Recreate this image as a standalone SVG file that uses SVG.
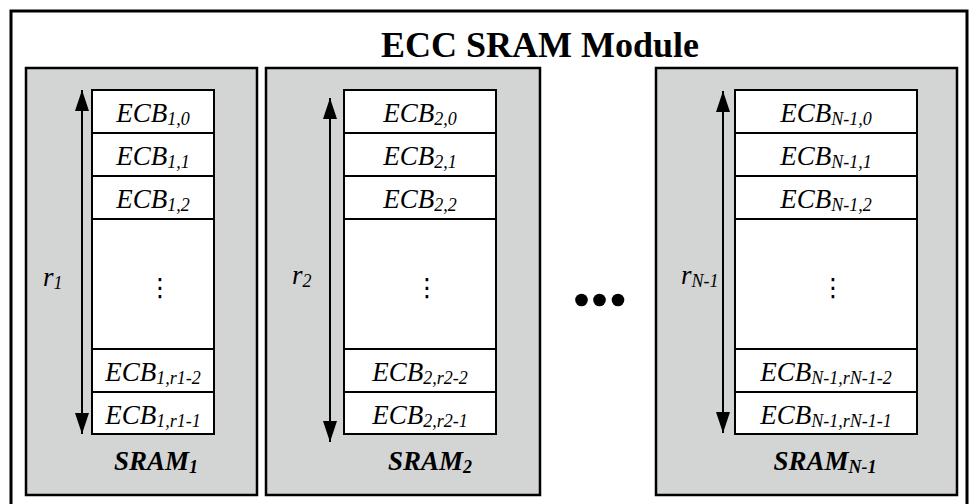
<svg xmlns="http://www.w3.org/2000/svg" width="972" height="504" viewBox="0 0 972 504">
<style>
.outer{fill:#ffffff;stroke:#000;stroke-width:3}
.sram{fill:#d3d4d4;stroke:#000;stroke-width:2.5}
.cell{fill:#ffffff;stroke:#000;stroke-width:2}
.t{font-family:"Liberation Serif","Times New Roman",serif;font-style:italic;font-size:27px;fill:#000;text-anchor:middle}
.r{font-family:"Liberation Serif","Times New Roman",serif;font-style:italic;font-size:27px;fill:#000}
.s{font-size:18px}
.lbl{font-family:"Liberation Serif","Times New Roman",serif;font-style:italic;font-weight:bold;font-size:27px;fill:#000;text-anchor:middle}
.title{font-family:"Liberation Serif","Times New Roman",serif;font-weight:bold;font-size:36px;fill:#000;text-anchor:middle}
.vd{font-family:"DejaVu Sans",sans-serif;font-size:25px;fill:#000;text-anchor:middle}
.arr{stroke:#000;stroke-width:2;fill:none}
</style>
<defs>
<marker id="ah" viewBox="0 0 21 14" refX="21" refY="7" markerWidth="21" markerHeight="14" markerUnits="userSpaceOnUse" orient="auto-start-reverse">
<path d="M0,0 L21,7 L0,14 Z" fill="#000"/>
</marker>
</defs>
<g id="module">
<rect class="outer" x="11" y="11" width="956" height="500"/>
<text class="title" x="540" y="57">ECC SRAM Module</text>
</g>
<g id="sram1">
<rect class="sram" x="26" y="68" width="231" height="427"/>
<rect class="cell" x="92" y="90" width="122" height="43"/>
<rect class="cell" x="92" y="133" width="122" height="43"/>
<rect class="cell" x="92" y="176" width="122" height="43"/>
<rect class="cell" x="92" y="219" width="122" height="130"/>
<rect class="cell" x="92" y="349" width="122" height="43"/>
<rect class="cell" x="92" y="392" width="122" height="42"/>
<text class="t" x="153" y="122">ECB<tspan class="s" dy="3">1,0</tspan></text>
<text class="t" x="153" y="165">ECB<tspan class="s" dy="3">1,1</tspan></text>
<text class="t" x="153" y="208">ECB<tspan class="s" dy="3">1,2</tspan></text>
<text class="vd" x="160" y="296">⋮</text>
<text class="t" x="153" y="381">ECB<tspan class="s" dy="3">1,r1-2</tspan></text>
<text class="t" x="153" y="424">ECB<tspan class="s" dy="3">1,r1-1</tspan></text>
<text class="r" x="43" y="286">r<tspan class="s" dy="3">1</tspan></text>
<text class="lbl" x="156" y="470">SRAM<tspan class="s" dy="3">1</tspan></text>
</g>
<g id="sram2">
<rect class="sram" x="266" y="68" width="274" height="427"/>
<rect class="cell" x="344" y="90" width="152" height="43"/>
<rect class="cell" x="344" y="133" width="152" height="43"/>
<rect class="cell" x="344" y="176" width="152" height="43"/>
<rect class="cell" x="344" y="219" width="152" height="130"/>
<rect class="cell" x="344" y="349" width="152" height="43"/>
<rect class="cell" x="344" y="392" width="152" height="42"/>
<text class="t" x="420" y="122">ECB<tspan class="s" dy="3">2,0</tspan></text>
<text class="t" x="420" y="165">ECB<tspan class="s" dy="3">2,1</tspan></text>
<text class="t" x="420" y="208">ECB<tspan class="s" dy="3">2,2</tspan></text>
<text class="vd" x="427" y="296">⋮</text>
<text class="t" x="420" y="381">ECB<tspan class="s" dy="3">2,r2-2</tspan></text>
<text class="t" x="420" y="424">ECB<tspan class="s" dy="3">2,r2-1</tspan></text>
<text class="r" x="292" y="284">r<tspan class="s" dy="3">2</tspan></text>
<text class="lbl" x="430" y="470">SRAM<tspan class="s" dy="3">2</tspan></text>
</g>
<g id="ellipsis">
<circle cx="581.5" cy="300" r="6.3" fill="#000"/>
<circle cx="599.5" cy="300" r="6.3" fill="#000"/>
<circle cx="618" cy="300" r="6.3" fill="#000"/>
</g>
<g id="sramN1">
<rect class="sram" x="656" y="68" width="301" height="427"/>
<rect class="cell" x="735" y="90" width="182" height="43"/>
<rect class="cell" x="735" y="133" width="182" height="43"/>
<rect class="cell" x="735" y="176" width="182" height="43"/>
<rect class="cell" x="735" y="219" width="182" height="130"/>
<rect class="cell" x="735" y="349" width="182" height="43"/>
<rect class="cell" x="735" y="392" width="182" height="42"/>
<text class="t" x="826" y="122">ECB<tspan class="s" dy="3">N-1,0</tspan></text>
<text class="t" x="826" y="165">ECB<tspan class="s" dy="3">N-1,1</tspan></text>
<text class="t" x="826" y="208">ECB<tspan class="s" dy="3">N-1,2</tspan></text>
<text class="vd" x="833" y="296">⋮</text>
<text class="t" x="826" y="381">ECB<tspan class="s" dy="3">N-1,rN-1-2</tspan></text>
<text class="t" x="826" y="424">ECB<tspan class="s" dy="3">N-1,rN-1-1</tspan></text>
<text class="r" x="681" y="284">r<tspan class="s" dy="3">N-1</tspan></text>
<text class="lbl" x="825" y="470">SRAM<tspan class="s" dy="3">N-1</tspan></text>
</g>
<g id="connectors">
<line class="arr" x1="82" y1="90" x2="82" y2="434" marker-start="url(#ah)" marker-end="url(#ah)"/>
<line class="arr" x1="330" y1="98" x2="330" y2="442" marker-start="url(#ah)" marker-end="url(#ah)"/>
<line class="arr" x1="723" y1="91" x2="723" y2="433" marker-start="url(#ah)" marker-end="url(#ah)"/>
</g>
</svg>
